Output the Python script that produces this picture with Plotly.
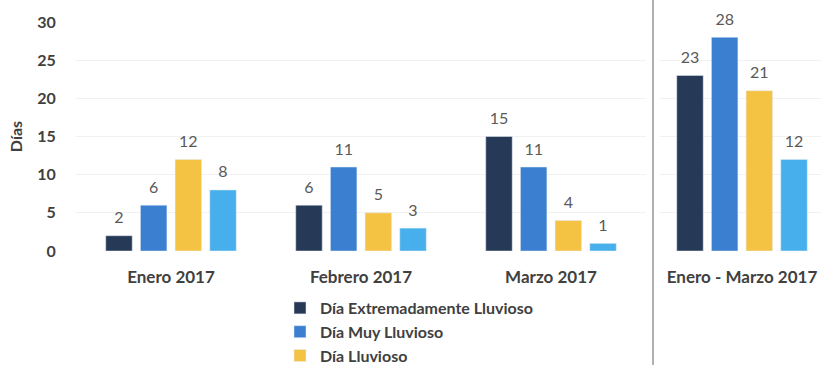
import plotly.graph_objects as go

# Monthly categories and the quarter total
months = ["Enero 2017", "Febrero 2017", "Marzo 2017"]
quarter = ["Enero - Marzo 2017"]

series_names = [
    "Día Extremadamente Lluvioso",
    "Día Muy Lluvioso",
    "Día Lluvioso",
    "Día Moderadamente Lluvioso",
]
extremo = [2, 6, 15]
muy = [6, 11, 11]
lluvioso = [12, 5, 4]
moderado = [8, 3, 1]

extremo_total = [23]
muy_total = [28]
lluvioso_total = [21]
moderado_total = [12]

colors = ["#263956", "#3b7fd1", "#f5c344", "#47b0ec"]
show_in_legend = [True, True, True, False]

monthly = [extremo, muy, lluvioso, moderado]
totals = [extremo_total, muy_total, lluvioso_total, moderado_total]

FONT = "Lato"
W, H = 821, 365
ML, MR, MT, MB = 76, 0, 22, 114
PW = W - ML - MR
BARGAP = 0.27

label_font = dict(family=FONT, size=16, color="#595959")
bold_font = dict(family=FONT, size=17, color="#404040", weight="bold")
tick_font = dict(family=FONT, size=16, color="#404040", weight="bold")

fig = go.Figure()


def add_series(xs, ys, name, col, leg, xa, ya):
    fig.add_trace(go.Bar(
        x=xs, y=ys, name=name, marker_color=col,
        legendgroup=name, showlegend=leg, xaxis=xa, yaxis=ya,
    ))
    # value labels, grouped like the bars and lifted above each bar top
    fig.add_trace(go.Scatter(
        x=xs, y=ys, mode="markers+text", text=[str(v) for v in ys],
        textposition="top center", textfont=label_font,
        marker=dict(size=12, opacity=0), cliponaxis=False,
        hoverinfo="skip", showlegend=False, xaxis=xa, yaxis=ya,
    ))


for name, vals, tot, col, leg in zip(series_names, monthly, totals, colors, show_in_legend):
    add_series(months, vals, name, col, leg, "x", "y")
    add_series(quarter, tot, name, col, False, "x2", "y2")

left_end = (646 - ML) / PW
right_start = (660 - ML) / PW
cat_px = 190.0
plot_h = H - MT - MB

grid = "#f1f1f1"
fig.update_layout(
    width=W, height=H,
    margin=dict(l=ML, r=MR, t=MT, b=MB, autoexpand=False),
    paper_bgcolor="white", plot_bgcolor="white",
    barmode="group", bargap=BARGAP, bargroupgap=0.236,
    scattermode="group", scattergap=BARGAP,
    font=dict(family=FONT, color="#404040"),
    xaxis=dict(
        domain=[0, left_end], showline=False, showgrid=False, zeroline=False,
        ticks="outside", ticklen=11, tickcolor="rgba(0,0,0,0)", tickfont=bold_font,
    ),
    xaxis2=dict(
        domain=[right_start, 1], anchor="y2",
        range=[-(742 - 660) / cat_px, (W - 742) / cat_px],
        showline=False, showgrid=False, zeroline=False,
        ticks="outside", ticklen=11, tickcolor="rgba(0,0,0,0)", tickfont=bold_font,
    ),
    yaxis=dict(
        range=[0, 30], dtick=5, showgrid=True, gridcolor=grid, zeroline=False,
        showline=False, ticks="outside", ticklen=16, tickcolor="rgba(0,0,0,0)",
        tickfont=tick_font,
        title=dict(text="Días", font=tick_font, standoff=10),
    ),
    yaxis2=dict(
        range=[0, 30], dtick=5, anchor="x2", showgrid=True, gridcolor=grid,
        zeroline=False, showline=False, showticklabels=False,
    ),
    legend=dict(
        x=(280 - ML) / PW, y=(251 - 291) / plot_h, xanchor="left", yanchor="top",
        font=tick_font, bgcolor="rgba(0,0,0,0)", itemwidth=30, tracegroupgap=0,
    ),
    shapes=[dict(
        type="line", xref="paper", yref="paper",
        x0=(653 - ML) / PW, x1=(653 - ML) / PW, y0=-MB / plot_h, y1=1 + MT / plot_h,
        line=dict(color="#b0b0b0", width=2),
    )],
)

fig.write_html("out.html")
